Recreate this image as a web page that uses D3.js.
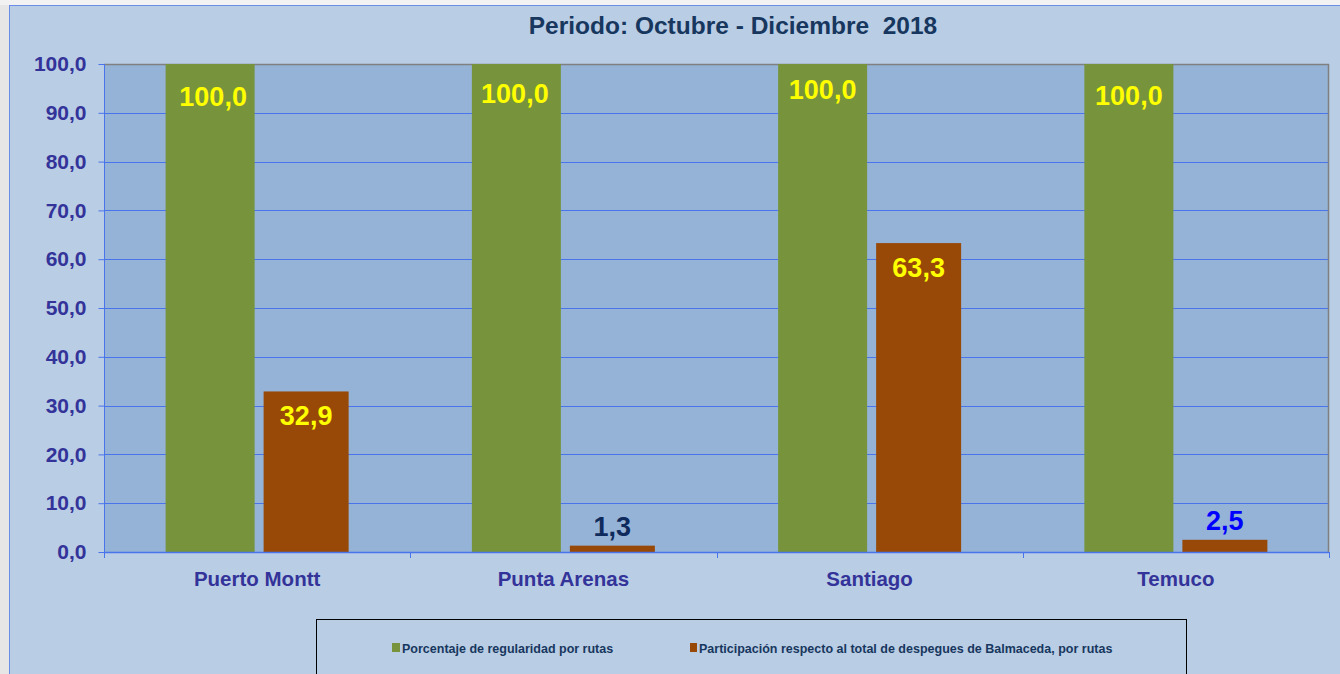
<!DOCTYPE html>
<html>
<head>
<meta charset="UTF-8">
<style>
body { margin:0; background:#e6e6e6; }
svg { display:block; font-family: Arial, "Liberation Sans", sans-serif; }
</style>
</head>
<body>
<svg id="chart"></svg>
<script src="https://d3js.org/d3.v7.min.js"></script>
<script>
const width = 1340, height = 674;

// data
const rutas = ["Puerto Montt", "Punta Arenas", "Santiago", "Temuco"];
const regularidad = [100.0, 100.0, 100.0, 100.0];
const participacion = [32.9, 1.3, 63.3, 2.5];
const yTicks = [0, 10, 20, 30, 40, 50, 60, 70, 80, 90, 100];
const seriesNames = ["Porcentaje de regularidad por rutas",
  "Participación respecto al total de despegues de Balmaceda, por rutas"];

const fmt = d => d.toFixed(1).replace(".", ",");

let svg = d3.select("#chart").attr("width", width).attr("height", height);

// chart area background
svg.append("rect").attr("x", 0).attr("y", 0).attr("width", width).attr("height", 5).attr("fill", "#f2f2f2");
svg.append("rect").attr("x", 9).attr("y", 5).attr("width", width - 9).attr("height", height - 5)
  .attr("fill", "#b9cde5");
svg.append("line").attr("x1", 9.5).attr("x2", 9.5).attr("y1", 5).attr("y2", height).attr("stroke", "#6a8ee8");
svg.append("line").attr("x1", 9).attr("x2", width).attr("y1", 5.5).attr("y2", 5.5).attr("stroke", "#6a8ee8");

const plot = { left: 104, right: 1329, top: 64, bottom: 552 };

let x = d3.scaleBand().domain(rutas).range([plot.left, plot.right]);
let y = d3.scaleLinear().domain([0, 100]).range([plot.bottom, plot.top]);

// plot area
svg.append("rect").attr("x", plot.left).attr("y", plot.top)
  .attr("width", plot.right - plot.left).attr("height", plot.bottom - plot.top)
  .attr("fill", "#95b3d7");

// gridlines
svg.append("g").selectAll("line").data(yTicks.filter(d => d > 0 && d < 100)).enter()
  .append("line")
  .attr("x1", plot.left).attr("x2", plot.right)
  .attr("y1", d => Math.round(y(d)) + 0.5).attr("y2", d => Math.round(y(d)) + 0.5)
  .attr("stroke", "#4a74ec").attr("stroke-width", 1);

// top and right border of plot
svg.append("line").attr("x1", plot.left).attr("x2", plot.right)
  .attr("y1", plot.top + 0.5).attr("y2", plot.top + 0.5).attr("stroke", "#808080").attr("stroke-width", 1.5);
svg.append("line").attr("x1", plot.right - 0.5).attr("x2", plot.right - 0.5)
  .attr("y1", plot.top).attr("y2", plot.bottom).attr("stroke", "#808080").attr("stroke-width", 1.5);

// bars
const greenW = 89, brownW = 85, gap = 9;
const offset = (x.bandwidth() - (greenW + gap + brownW)) / 2;

svg.append("g").selectAll("rect").data(rutas).enter().append("rect")
  .attr("x", d => x(d) + offset)
  .attr("y", (d, i) => y(regularidad[i]))
  .attr("width", greenW)
  .attr("height", (d, i) => y(0) - y(regularidad[i]))
  .attr("fill", "#77933c");

svg.append("g").selectAll("rect").data(rutas).enter().append("rect")
  .attr("x", d => x(d) + offset + greenW + gap)
  .attr("y", (d, i) => y(participacion[i]))
  .attr("width", brownW)
  .attr("height", (d, i) => y(0) - y(participacion[i]))
  .attr("fill", "#984807");

// y axis
let yAxis = d3.axisLeft(y).tickValues(yTicks).tickFormat(fmt).tickSize(6).tickPadding(12);
let gy = svg.append("g").attr("transform", "translate(" + (plot.left + 0.5) + ",0)").call(yAxis);
gy.select(".domain").attr("stroke", "#4a74ec").attr("d", "M0," + (plot.top) + "V" + (plot.bottom + 6));
gy.selectAll(".tick line").attr("stroke", "#4a74ec");
gy.selectAll(".tick text").attr("fill", "#333399").style("font-size", "21px").style("font-weight", "bold")
  .attr("font-family", "Arial, 'Liberation Sans', sans-serif");

// x axis
svg.append("line").attr("x1", plot.left).attr("x2", plot.right)
  .attr("y1", plot.bottom + 0.5).attr("y2", plot.bottom + 0.5).attr("stroke", "#4a74ec").attr("stroke-width", 1.5);
svg.append("g").selectAll("line").data(rutas.concat(["_end"])).enter().append("line")
  .attr("x1", (d, i) => Math.round(plot.left + i * x.bandwidth()) + 0.5)
  .attr("x2", (d, i) => Math.round(plot.left + i * x.bandwidth()) + 0.5)
  .attr("y1", plot.bottom).attr("y2", plot.bottom + 6)
  .attr("stroke", "#4a74ec");

svg.append("g").selectAll("text").data(rutas).enter().append("text")
  .attr("x", d => x(d) + x.bandwidth() / 2)
  .attr("y", 586)
  .attr("text-anchor", "middle")
  .attr("fill", "#333399")
  .style("font-size", "20.5px").style("font-weight", "bold")
  .text(d => d);

// value labels (hand-placed offsets as in the original chart)
const greenDx = [3, -1.5, 0, 0], greenDy = [42, 39, 35, 41];
svg.append("g").selectAll("text").data(rutas).enter().append("text")
  .attr("x", (d, i) => x(d) + offset + greenW / 2 + greenDx[i])
  .attr("y", (d, i) => y(regularidad[i]) + greenDy[i])
  .attr("text-anchor", "middle")
  .attr("fill", "#ffff00")
  .style("font-size", "27px").style("font-weight", "bold")
  .text((d, i) => fmt(regularidad[i]));

const brownColors = ["#ffff00", "#0f2a5c", "#ffff00", "#0000ff"];
svg.append("g").selectAll("text").data(rutas).enter().append("text")
  .attr("x", d => x(d) + offset + greenW + gap + brownW / 2)
  .attr("y", (d, i) => participacion[i] > 10 ? y(participacion[i]) + 34 : y(participacion[i]) - 10)
  .attr("text-anchor", "middle")
  .attr("fill", (d, i) => brownColors[i])
  .style("font-size", "27px").style("font-weight", "bold")
  .text((d, i) => fmt(participacion[i]));

// title
svg.append("text").attr("x", 733).attr("y", 34).attr("text-anchor", "middle")
  .attr("fill", "#17375e").style("font-size", "24.5px").style("font-weight", "bold")
  .style("white-space", "pre")
  .text("Periodo: Octubre - Diciembre  2018");

// legend
svg.append("rect").attr("x", 316.5).attr("y", 619.5).attr("width", 870).attr("height", 70)
  .attr("fill", "none").attr("stroke", "#000").attr("stroke-width", 1);

const legendX = [392, 690], legendColors = ["#77933c", "#984807"];
let lg = svg.append("g").selectAll("g").data(seriesNames).enter().append("g")
  .attr("transform", (d, i) => "translate(" + legendX[i] + ",648)");
lg.append("rect").attr("x", 0).attr("y", -5).attr("width", (d, i) => i ? 7 : 8).attr("height", 9)
  .attr("fill", (d, i) => legendColors[i]);
lg.append("text").attr("x", (d, i) => i ? 9 : 10).attr("y", 4.5)
  .attr("fill", "#17375e").style("font-size", "12.5px").style("font-weight", "bold")
  .text(d => d);
</script>
</body>
</html>
